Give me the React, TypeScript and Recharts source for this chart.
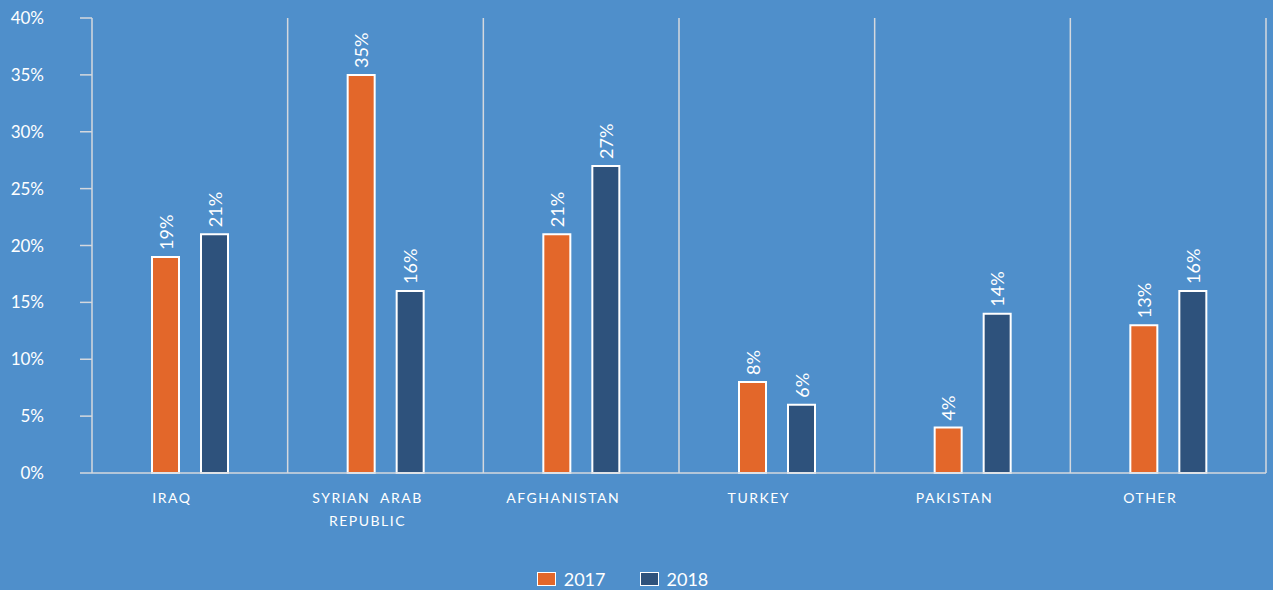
import { BarChart, Bar, XAxis, YAxis, CartesianGrid, Legend, LabelList } from "recharts"

const countries = ["IRAQ", "SYRIAN  ARAB|REPUBLIC", "AFGHANISTAN", "TURKEY", "PAKISTAN", "OTHER"]
const values2017 = [19, 35, 21, 8, 4, 13]
const values2018 = [21, 16, 27, 6, 14, 16]
const yTicks = [0, 5, 10, 15, 20, 25, 30, 35, 40]

const data = countries.map((name, i) => ({
  name,
  y2017: values2017[i],
  y2018: values2018[i],
}))

const BG = "#4f8fcb"
const ORANGE = "#e3672a"
const NAVY = "#2e527c"
const LINE = "#d4d8de"
const FONT = "Lato, 'Open Sans', sans-serif"

function CountryTick({ x, y, payload }: any) {
  const lines = String(payload.value).split("|")
  const tx = x - 18
  return (
    <text
      x={tx}
      y={y}
      textAnchor="middle"
      fill="#fff"
      fontSize={14}
      letterSpacing={1.5}
      fontFamily={FONT}
    >
      {lines.map((l, i) => (
        <tspan key={i} x={tx} dy={i === 0 ? 22 : 23} style={{ whiteSpace: "pre" }}>
          {l}
        </tspan>
      ))}
    </text>
  )
}

function ValueLabel({ x, y, width, value }: any) {
  const cx = x + width / 2
  const ty = y - 7
  return (
    <text
      x={cx}
      y={ty}
      transform={`rotate(-90 ${cx} ${ty})`}
      textAnchor="start"
      dominantBaseline="central"
      fill="#fff"
      fontSize={18}
      fontFamily={FONT}
    >
      {value}%
    </text>
  )
}

function LegendContent() {
  const items = [
    { label: "2017", color: ORANGE },
    { label: "2018", color: NAVY },
  ]
  return (
    <div style={{ display: "flex", justifyContent: "center", height: 22, alignItems: "center", gap: 34 }}>
      {items.map((it) => (
        <div key={it.label} style={{ display: "flex", alignItems: "center", gap: 8 }}>
          <span
            style={{
              display: "inline-block",
              width: 17,
              height: 12,
              background: it.color,
              border: "1.5px solid #fff",
            }}
          />
          <span style={{ color: "#fff", fontSize: 18, fontFamily: FONT }}>{it.label}</span>
        </div>
      ))}
    </div>
  )
}

export default function App() {
  return (
    <div style={{ position: "fixed", left: 0, top: 0, width: 1273, height: 590, background: BG }}>
      <BarChart
        width={1273}
        height={590}
        data={data}
        margin={{ top: 18, right: 7, left: 12, bottom: 0 }}
        barSize={27}
        barGap={22}
      >
        <CartesianGrid
          horizontal={false}
          stroke={LINE}
          strokeWidth={1.5}
          verticalCoordinatesGenerator={({ offset }: any) =>
            countries.map((_, i) => offset.left + ((i + 1) * offset.width) / countries.length)
          }
        />
        <XAxis
          dataKey="name"
          height={95}
          tickLine={false}
          axisLine={{ stroke: LINE, strokeWidth: 1.5 }}
          tick={<CountryTick />}
          interval={0}
        />
        <YAxis
          width={80}
          domain={[0, 40]}
          ticks={yTicks}
          tickFormatter={(v) => `${v}%`}
          tickSize={12}
          tickMargin={36}
          tickLine={{ stroke: LINE, strokeWidth: 1.5 }}
          axisLine={{ stroke: LINE, strokeWidth: 1.5 }}
          tick={{ fill: "#fff", fontSize: 17, fontFamily: FONT }}
        />
        <Legend
          verticalAlign="bottom"
          content={<LegendContent />}
          wrapperStyle={{ left: 0, width: 1245 }}
        />
        <Bar dataKey="y2017" fill={ORANGE} stroke="#fff" strokeWidth={2} isAnimationActive={false}>
          <LabelList dataKey="y2017" content={<ValueLabel />} />
        </Bar>
        <Bar dataKey="y2018" fill={NAVY} stroke="#fff" strokeWidth={2} isAnimationActive={false}>
          <LabelList dataKey="y2018" content={<ValueLabel />} />
        </Bar>
      </BarChart>
    </div>
  )
}
